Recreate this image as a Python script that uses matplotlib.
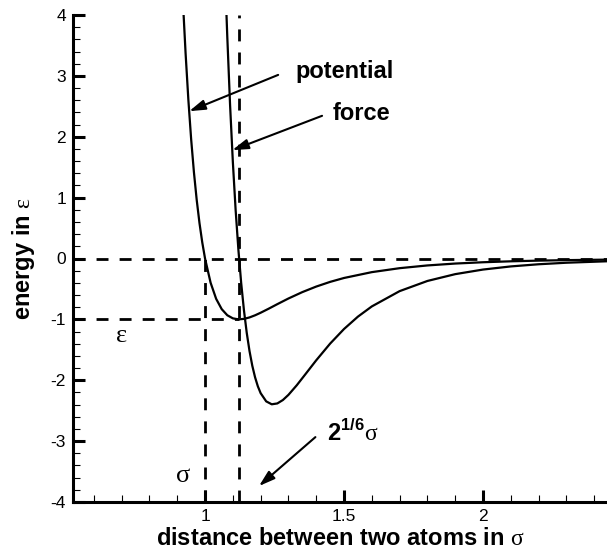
import matplotlib.pyplot as plt
from matplotlib.ticker import MultipleLocator, FormatStrFormatter

plt.rcParams['font.family'] = ['Liberation Sans', 'DejaVu Sans']
plt.rcParams['mathtext.fontset'] = 'custom'
plt.rcParams['mathtext.rm'] = 'Liberation Serif'
plt.rcParams['mathtext.bf'] = 'Liberation Sans:bold'
plt.rcParams['axes.unicode_minus'] = False

# Lennard-Jones pair in reduced units: distance in sigma, energy in epsilon
r_pot = [0.923, 0.93, 0.94, 0.95, 0.96, 0.97, 0.98, 0.99, 1.00, 1.02, 1.04,
         1.06, 1.08, 1.10, 1.12, 1.14, 1.16, 1.18, 1.20, 1.23, 1.26, 1.30,
         1.35, 1.40, 1.45, 1.50, 1.60, 1.70, 1.80, 1.90, 2.00, 2.10, 2.20,
         2.30, 2.45]
v_pot = [3.993, 3.373, 2.607, 1.961, 1.418, 0.963, 0.582, 0.264, 0.0, -0.398,
         -0.663, -0.832, -0.932, -0.983, -1.000, -0.992, -0.968, -0.933,
         -0.891, -0.822, -0.750, -0.657, -0.552, -0.461, -0.384, -0.320,
         -0.224, -0.159, -0.114, -0.083, -0.0615, -0.0461, -0.0350, -0.0268,
         -0.0184]

r_force = [1.077, 1.08, 1.09, 1.10, 1.11, 1.12, 1.13, 1.14, 1.15, 1.16, 1.17,
           1.18, 1.19, 1.20, 1.22, 1.24, 1.26, 1.28, 1.30, 1.33, 1.36, 1.40,
           1.45, 1.50, 1.55, 1.60, 1.70, 1.80, 1.90, 2.00, 2.10, 2.20, 2.30,
           2.45]
f_force = [4.021, 3.646, 2.528, 1.588, 0.800, 0.143, -0.402, -0.852, -1.221,
           -1.521, -1.762, -1.952, -2.100, -2.212, -2.347, -2.395, -2.381,
           -2.325, -2.240, -2.082, -1.907, -1.672, -1.398, -1.158, -0.955,
           -0.787, -0.536, -0.369, -0.257, -0.1816, -0.1301, -0.0945, -0.0695,
           -0.0449]

sigma = 1.0
r_min = 1.1225   # 2^(1/6) sigma, where the force vanishes
eps = -1.0       # depth of the well

xlim = (0.525, 2.446)
ylim = (-4, 4)

fig = plt.figure(figsize=(6.07, 5.5), dpi=100)
ax = fig.add_axes([73 / 607, 48 / 550, 534 / 607, 487 / 550])

dash = (0, (4.3, 4.0))
ax.plot(xlim, [0, 0], color='k', lw=2, ls=dash)
ax.plot([xlim[0], r_min], [eps, eps], color='k', lw=2, ls=dash)
ax.plot([sigma, sigma], [ylim[0], 0], color='k', lw=2, ls=dash)
ax.plot([r_min, r_min], ylim, color='k', lw=2, ls=dash)

ax.plot(r_pot, v_pot, color='k', lw=1.6)
ax.plot(r_force, f_force, color='k', lw=1.6)

ax.set_xlim(xlim)
ax.set_ylim(ylim)

for side in ['top', 'right']:
    ax.spines[side].set_visible(False)
for side in ['left', 'bottom']:
    ax.spines[side].set_linewidth(2.2)

ax.xaxis.set_major_locator(MultipleLocator(0.5))
ax.xaxis.set_minor_locator(MultipleLocator(0.1))
ax.yaxis.set_major_locator(MultipleLocator(1))
ax.yaxis.set_minor_locator(MultipleLocator(0.2))
ax.xaxis.set_major_formatter(FormatStrFormatter('%g'))
ax.yaxis.set_major_formatter(FormatStrFormatter('%g'))
ax.tick_params(which='major', direction='in', length=8.5, width=2.2,
               labelsize=12.5, pad=5)
ax.tick_params(which='minor', direction='in', length=5, width=0.8)

ax.set_xlabel('distance between two atoms in $\\mathrm{\\sigma}$',
              fontsize=17, fontweight='bold', labelpad=2)
ax.set_ylabel('energy in $\\mathrm{\\varepsilon}$', fontsize=17,
              fontweight='bold')
ax.yaxis.set_label_coords(-0.067, 0.5)

arrow = dict(arrowstyle='-|>,head_length=0.8,head_width=0.25',
             color='k', lw=1.5, shrinkA=0, shrinkB=0, mutation_scale=12)

ax.annotate('', xy=(0.943, 2.42), xytext=(1.263, 3.016), arrowprops=arrow)
ax.text(1.324, 3.07, 'potential', fontsize=17, fontweight='bold',
        ha='left', va='center')

ax.annotate('', xy=(1.098, 1.78), xytext=(1.421, 2.344), arrowprops=arrow)
ax.text(1.46, 2.39, 'force', fontsize=17, fontweight='bold',
        ha='left', va='center')

ax.annotate('', xy=(1.194, -3.738), xytext=(1.397, -2.934), arrowprops=arrow)
ax.text(1.439, -2.87, '$\\mathbf{2}^{\\mathbf{1/6}}\\mathrm{\\sigma}$',
        fontsize=17, ha='left', va='center')

ax.text(0.921, -3.557, '$\\mathrm{\\sigma}$', fontsize=19,
        ha='center', va='center')
ax.text(0.70, -1.25, '$\\mathrm{\\varepsilon}$', fontsize=19,
        ha='center', va='center')

fig.savefig('out.png', dpi=100)
